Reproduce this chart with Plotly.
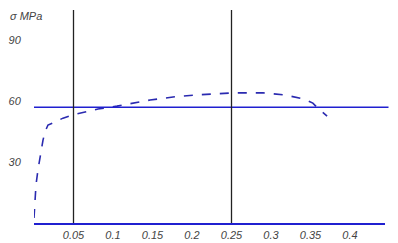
import plotly.graph_objects as go

# Stress-strain curve
strain = [0.0, 0.0013, 0.0025, 0.005, 0.0076, 0.0114, 0.0139, 0.0177, 0.0266, 0.0367,
          0.0481, 0.0582, 0.0709, 0.081, 0.105, 0.125, 0.147, 0.176, 0.204, 0.251,
          0.29, 0.318, 0.33, 0.341, 0.353, 0.358, 0.371]
stress = [2.5, 11.3, 18.7, 26.1, 32.5, 40.8, 44.8, 48.2, 49.7, 51.6,
          53.1, 54.1, 55.1, 56.1, 57.5, 59.0, 60.5, 62.0, 63.0, 64.0,
          64.0, 63.0, 62.0, 61.0, 59.0, 57.0, 52.6]

x_ticks = [0.05, 0.1, 0.15, 0.2, 0.25, 0.3, 0.35, 0.4]
x_tick_labels = ["0.05", "0.1", "0.15", "0.2", "0.25", "0.3", "0.35", "0.4"]
y_ticks = [30, 60, 90]
y_tick_labels = ["30", "60", "90"]

h_line_stress = 57
v_line_strains = [0.05, 0.25]

font_lbl = dict(family="Liberation Sans", size=11, color="#444444", style="italic")

fig = go.Figure()
fig.add_trace(go.Scatter(x=strain, y=stress, mode="lines",
                         line=dict(color="#2a2ab0", width=1.6, dash="dash"),
                         showlegend=False))

shapes = [dict(type="line", xref="paper", yref="y", x0=0, x1=1.01,
               y0=h_line_stress, y1=h_line_stress,
               line=dict(color="#2020d0", width=1.5))]
for v in v_line_strains:
    shapes.append(dict(type="line", xref="x", yref="paper", x0=v, x1=v, y0=0, y1=1,
                       line=dict(color="#222222", width=1.3)))

fig.update_layout(
    width=390, height=235,
    margin=dict(l=26, r=13, t=2, b=20),
    paper_bgcolor="white", plot_bgcolor="white",
    shapes=shapes,
    xaxis=dict(range=[0, 0.4443], showgrid=False, zeroline=False, automargin=False,
               showline=True, linecolor="#2020d0", linewidth=2,
               tickvals=x_ticks, ticktext=x_tick_labels,
               ticks="outside", ticklen=1, tickcolor="rgba(0,0,0,0)",
               tickfont=font_lbl),
    yaxis=dict(range=[0, 104.8], showgrid=False, zeroline=False, showline=False,
               automargin=False,
               tickvals=y_ticks, ticktext=y_tick_labels,
               ticks="outside", ticklen=10, tickcolor="rgba(0,0,0,0)",
               tickfont=font_lbl),
    annotations=[
        dict(text="σ MPa", xref="paper", yref="paper", x=-0.074, y=1.01,
             xanchor="left", yanchor="top", showarrow=False, font=font_lbl),
        dict(text="ε", xref="paper", yref="paper", x=1.037, y=-0.025,
             xanchor="right", yanchor="top", showarrow=False, font=font_lbl),
    ],
)

fig.write_html("out.html")
